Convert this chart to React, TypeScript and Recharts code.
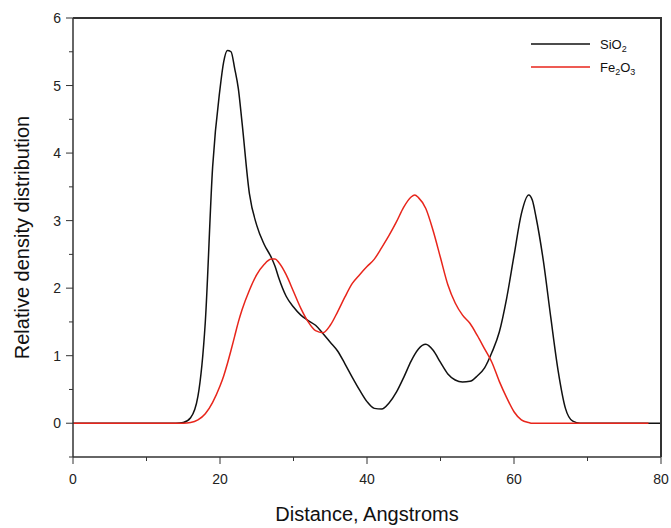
import { LineChart, Line, XAxis, YAxis } from "recharts"

// distance (Angstroms)
const xs = [
  0, 10, 14, 15, 16, 17, 18, 19, 20, 20.5, 21, 21.5, 22, 22.5, 23, 24, 25, 26, 27, 27.5, 28, 29, 30,
  31, 32, 33, 34, 35, 36, 37, 38, 39, 40, 41, 42, 43, 44, 45, 46, 46.5, 47, 48, 49, 50, 51, 52, 53,
  54, 55, 56, 57, 58, 59, 60, 61, 62, 62.5, 63, 64, 65, 66, 67, 68, 69, 70, 78.3, 80,
]
const sio2 = [
  0, 0, 0, 0.01, 0.08, 0.4, 1.5, 3.8, 4.95, 5.35, 5.52, 5.5, 5.25, 4.95, 4.45, 3.4, 2.93, 2.65, 2.45, 2.32, 2.15, 1.88, 1.72,
  1.6, 1.52, 1.45, 1.33, 1.2, 1.07, 0.88, 0.68, 0.49, 0.32, 0.22, 0.21, 0.3, 0.46, 0.68, 0.92, 1.02, 1.1, 1.17, 1.08, 0.9, 0.73, 0.64, 0.61,
  0.62, 0.7, 0.82, 1.05, 1.35, 1.85, 2.48, 3.1, 3.38, 3.3, 3.05, 2.4, 1.57, 0.78, 0.22, 0.03, 0, 0, 0, 0,
]
const fe2o3 = [
  0, 0, 0, 0, 0.01, 0.05, 0.14, 0.31, 0.55, 0.7, 0.88, 1.08, 1.29, 1.5, 1.68, 1.97, 2.2, 2.35, 2.43, 2.43, 2.38, 2.2, 1.95,
  1.7, 1.5, 1.37, 1.34, 1.45, 1.65, 1.87, 2.07, 2.2, 2.32, 2.43, 2.6, 2.78, 2.98, 3.2, 3.35, 3.38, 3.34, 3.18, 2.85, 2.45, 2.05, 1.78, 1.6,
  1.48, 1.3, 1.1, 0.9, 0.62, 0.38, 0.17, 0.05, 0.01, 0, 0, 0, 0, 0, 0, 0, 0, 0, 0, null,
]

const xTicks = [0, 10, 20, 30, 40, 50, 60, 70, 80]
const yTicks = [-0.5, 0, 0.5, 1, 1.5, 2, 2.5, 3, 3.5, 4, 4.5, 5, 5.5, 6]

const data = xs.map((x, i) => ({ x, sio2: sio2[i], fe2o3: fe2o3[i] }))

const FONT = "'Liberation Sans', Arial, sans-serif"
const AXIS = "#333"
const BLACK = "#111"
const RED = "#e8251b"

const W = 671
const H = 528
const MARGIN = { top: 18, right: 10, bottom: 41, left: 13 }
const Y_AXIS_W = 60
const X_AXIS_H = 30

const XTick = ({ x, y, payload }: any) => {
  const major = payload.value % 20 === 0
  return (
    <g>
      <line x1={x} x2={x} y1={y} y2={y + (major ? 7 : 4)} stroke={AXIS} />
      {major && (
        <text x={x} y={y + 27} textAnchor="middle" fontSize={14} fill="#222" fontFamily={FONT}>
          {payload.value}
        </text>
      )}
    </g>
  )
}

const YTick = ({ x, y, payload }: any) => {
  const major = Number.isInteger(payload.value)
  return (
    <g>
      <line x1={x} x2={x - (major ? 7 : 4)} y1={y} y2={y} stroke={AXIS} />
      {major && payload.value >= 0 && (
        <text x={x - 12} y={y + 5} textAnchor="end" fontSize={14} fill="#222" fontFamily={FONT}>
          {payload.value}
        </text>
      )}
    </g>
  )
}

const XTitle = ({ viewBox }: any) => (
  <text x={viewBox.x + viewBox.width / 2} y={521} textAnchor="middle" fontSize={20} fill="#111" fontFamily={FONT}>
    Distance, Angstroms
  </text>
)

const YTitle = ({ viewBox }: any) => {
  const cx = 22
  const cy = viewBox.y + viewBox.height / 2
  return (
    <text
      x={cx}
      y={cy}
      transform={`rotate(-90 ${cx} ${cy})`}
      textAnchor="middle"
      dominantBaseline="central"
      fontSize={20}
      fill="#111"
      fontFamily={FONT}
    >
      Relative density distribution
    </text>
  )
}

// legend drawn over the chart, top right of the plot
function ChartLegend() {
  return (
    <svg width={140} height={50} style={{ position: "absolute", left: 525, top: 32 }}>
      <line x1={6} x2={65} y1={12} y2={12} stroke={BLACK} strokeWidth={1.5} />
      <text x={75} y={17} fontSize={13} fill="#111" fontFamily={FONT}>
        SiO<tspan fontSize={9} dy={3}>2</tspan>
      </text>
      <line x1={6} x2={65} y1={35} y2={35} stroke={RED} strokeWidth={1.5} />
      <text x={75} y={40} fontSize={13} fill="#111" fontFamily={FONT}>
        Fe<tspan fontSize={9} dy={3}>2</tspan>
        <tspan dy={-3}>O</tspan>
        <tspan fontSize={9} dy={3}>3</tspan>
      </text>
    </svg>
  )
}

// top and right edges of the plot frame
function Frame() {
  const left = MARGIN.left + Y_AXIS_W
  const top = MARGIN.top
  return (
    <div
      style={{
        position: "absolute",
        left,
        top: top - 1,
        width: W - MARGIN.right - left + 1,
        height: H - MARGIN.bottom - X_AXIS_H - top + 1,
        borderTop: `2px solid ${AXIS}`,
        borderRight: `2px solid ${AXIS}`,
        boxSizing: "border-box",
        pointerEvents: "none",
        zIndex: 5,
      }}
    />
  )
}

export default function App() {
  return (
    <div style={{ position: "absolute", left: 0, top: 0, width: W, height: H, background: "#fff" }}>
      <LineChart width={W} height={H} data={data} margin={MARGIN}>
        <XAxis
          dataKey="x"
          type="number"
          domain={[0, 80]}
          ticks={xTicks}
          interval={0}
          tick={<XTick />}
          tickLine={false}
          tickSize={0}
          tickMargin={0}
          height={X_AXIS_H}
          stroke={AXIS}
          strokeWidth={1.5}
          label={{ content: <XTitle /> }}
        />
        <YAxis
          type="number"
          domain={[-0.5, 6]}
          ticks={yTicks}
          interval={0}
          tick={<YTick />}
          tickLine={false}
          tickSize={0}
          tickMargin={0}
          width={Y_AXIS_W}
          stroke={AXIS}
          strokeWidth={1.5}
          allowDataOverflow
          label={{ content: <YTitle /> }}
        />
        <Line type="monotone" dataKey="sio2" stroke={BLACK} strokeWidth={1.5} dot={false} isAnimationActive={false} />
        <Line type="monotone" dataKey="fe2o3" stroke={RED} strokeWidth={1.5} dot={false} isAnimationActive={false} />
      </LineChart>
      <Frame />
      <ChartLegend />
    </div>
  )
}
